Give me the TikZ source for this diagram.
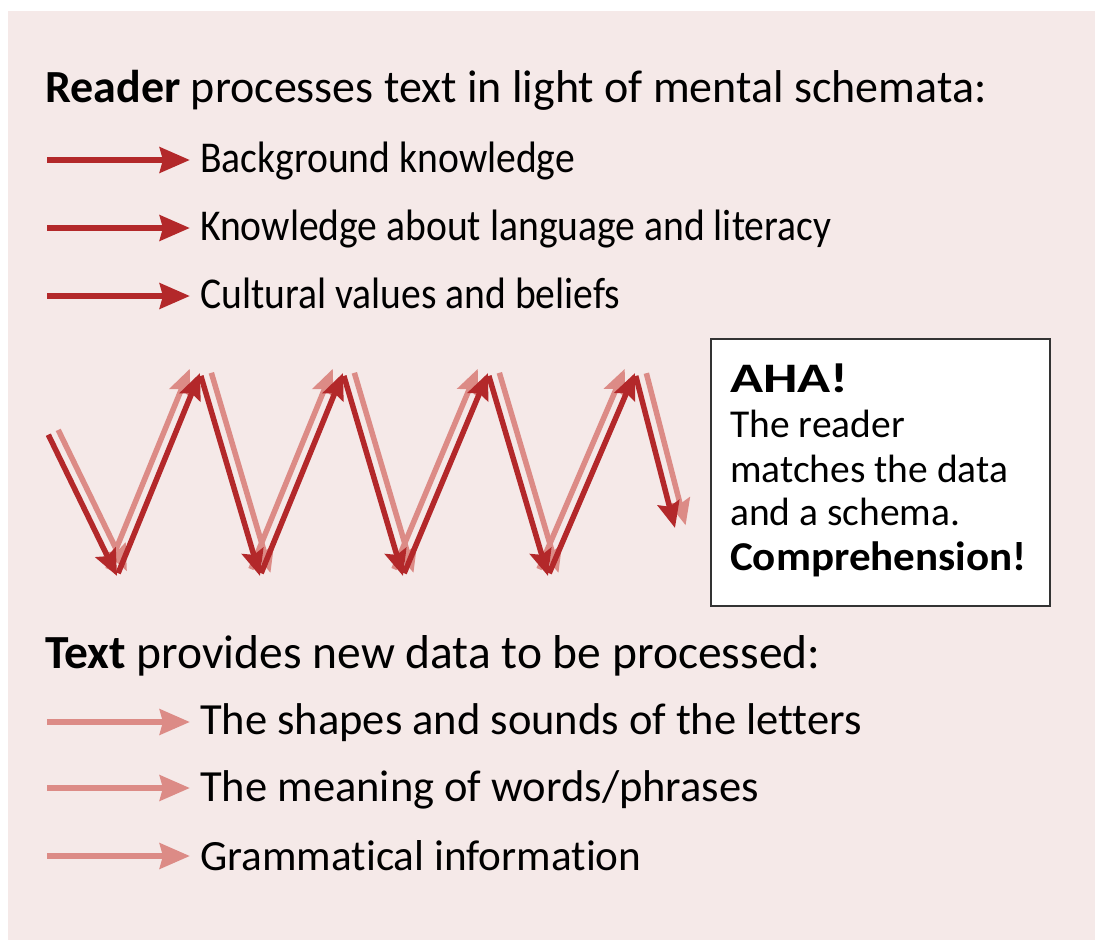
\documentclass[tikz,border=0pt]{standalone}
\usepackage{fontspec}
\setmainfont{Carlito}[Ligatures=NoCommon]
\newfontfamily\condfont{Carlito}[FakeStretch=0.9,Ligatures=NoCommon]
\newfontfamily\ahafont{Carlito}[FakeStretch=1.3]
\newfontfamily\compfont{Carlito}[FakeStretch=1.05]
\usetikzlibrary{arrows.meta}
\definecolor{bgpink}{HTML}{F5E9E8}
\definecolor{darkred}{HTML}{B3282A}
\definecolor{lightred}{HTML}{DC8B86}
\definecolor{boxborder}{HTML}{333333}
\tikzset{
  titletxt/.style={anchor=base west, inner sep=0pt, font=\fontsize{46}{54}\selectfont},
  titletxtb/.style={anchor=base west, inner sep=0pt, font=\fontsize{47.5}{54}\selectfont},
  toplist/.style={anchor=base west, inner sep=0pt, font=\condfont\fontsize{44}{54}\selectfont},
  botlist/.style={anchor=base west, inner sep=0pt, font=\fontsize{44.5}{54}\selectfont},
  boxtxt/.style={anchor=base west, inner sep=0pt, font=\fontsize{39.5}{44}\selectfont},
  listarrow/.style={line width=6.5pt, -{Stealth[length=30pt,width=25pt,inset=3pt]}},
  darkarrow/.style={listarrow, darkred},
  lightarrow/.style={listarrow, lightred},
  zig/.style={line width=5.5pt, -{Stealth[length=26pt,width=22pt,inset=4pt]}, shorten <=3pt},
}
\begin{document}
\begin{tikzpicture}[x=1pt,y=-1pt]
\useasboundingbox (0,0) rectangle (1095,940);
\fill[bgpink] (8,11) rectangle (1095,940);

% top block
\node[titletxt] (title1) at (45,102) {\textbf{Reader} processes text in light of mental schemata:};
\coordinate (a1s) at (47,160); \coordinate (a1e) at (190,160);
\coordinate (a2s) at (47,228); \coordinate (a2e) at (190,228);
\coordinate (a3s) at (47,296); \coordinate (a3e) at (190,296);
\draw[darkarrow] (a1s) -- (a1e);
\draw[darkarrow] (a2s) -- (a2e);
\draw[darkarrow] (a3s) -- (a3e);
\node[toplist] (t1) at (200,172) {Background knowledge};
\node[toplist] (t2) at (200,240) {Knowledge about language and literacy};
\node[toplist] (t3) at (200,308) {Cultural values and beliefs};

% zigzag dark points
\coordinate (d0) at (47,432);
\coordinate (d1) at (117,576);
\coordinate (d2) at (200,373);
\coordinate (d3) at (260,576);
\coordinate (d4) at (343,373);
\coordinate (d5) at (403,576);
\coordinate (d6) at (488,373);
\coordinate (d7) at (548,576);
\coordinate (d8) at (635,373);
\coordinate (d9) at (675,528);
% light: parallel copies (start/end of each segment)
\coordinate (ls0) at (56.9,427.2);  \coordinate (le0) at (126.9,571.2);
\coordinate (ls1) at (106.8,571.8); \coordinate (le1) at (189.8,368.8);
\coordinate (ls2) at (210.5,369.9); \coordinate (le2) at (270.5,572.9);
\coordinate (ls3) at (249.8,571.8); \coordinate (le3) at (332.8,368.8);
\coordinate (ls4) at (353.5,369.9); \coordinate (le4) at (413.5,572.9);
\coordinate (ls5) at (392.8,571.8); \coordinate (le5) at (477.8,368.8);
\coordinate (ls6) at (498.5,369.9); \coordinate (le6) at (558.5,572.9);
\coordinate (ls7) at (537.8,571.8); \coordinate (le7) at (624.8,368.8);
\coordinate (ls8) at (645.6,370.3); \coordinate (le8) at (685.6,525.3);
\foreach \i in {0,...,8}
  \draw[zig, lightred] (ls\i) -- (le\i);
\foreach \i/\j in {0/1,1/2,2/3,3/4,4/5,5/6,6/7,7/8,8/9}
  \draw[zig, darkred] (d\i) -- (d\j);

% AHA box
\draw[boxborder, fill=white, line width=1.5pt] (711,339) rectangle (1050,606);
\node[boxtxt, font=\ahafont\bfseries\fontsize{42}{44}\selectfont] (aha) at (730,392) {AHA!};
\node[boxtxt] (b1) at (730,437) {The reader};
\node[boxtxt] (b2) at (730,482) {matches the data};
\node[boxtxt] (b3) at (730,525) {and a schema.};
\node[boxtxt, font=\compfont\bfseries\fontsize{41}{44}\selectfont] (b4) at (730,570) {Comprehension!};

% bottom block
\node[titletxtb] (title2) at (45,668) {\textbf{Text} provides new data to be processed:};
\coordinate (c1s) at (47,722); \coordinate (c1e) at (190,722);
\coordinate (c2s) at (47,788); \coordinate (c2e) at (190,788);
\coordinate (c3s) at (47,856); \coordinate (c3e) at (190,856);
\draw[lightarrow] (c1s) -- (c1e);
\draw[lightarrow] (c2s) -- (c2e);
\draw[lightarrow] (c3s) -- (c3e);
\node[botlist] (u1) at (200,734) {The shapes and sounds of the letters};
\node[botlist] (u2) at (200,801) {The meaning of words/phrases};
\node[botlist, font=\fontsize{43.2}{54}\selectfont] (u3) at (200,870) {Grammatical information};
\end{tikzpicture}
\end{document}
